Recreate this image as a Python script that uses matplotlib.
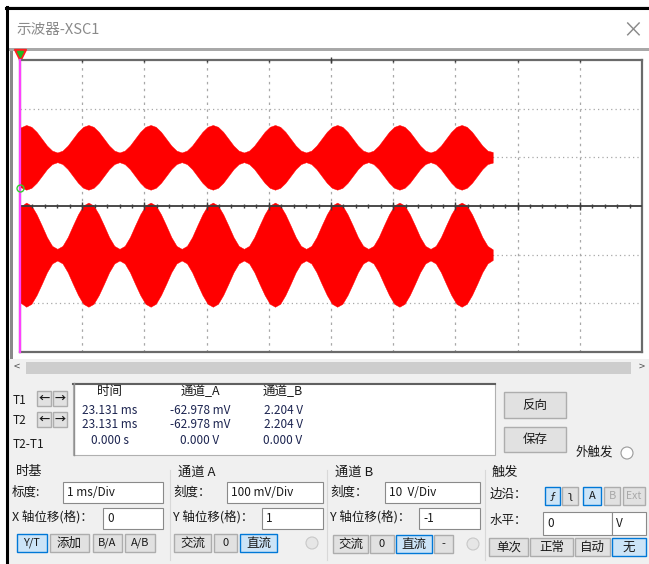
import numpy as np
import matplotlib.pyplot as plt
from matplotlib.patches import Rectangle, Circle

plt.rcParams['font.family'] = ['Noto Sans CJK SC', 'DejaVu Sans']

# envelope readings of the two traces, sampled every 1/12 ms from 0.1 ms
t_ms = np.concatenate([[0.0], np.arange(0.1, 7.6001, 1 / 12)])

# channel A envelope amplitude (mV), 100 mV/Div, offset +1 div
env_a_mv = [61.0,
            66.5, 62.7, 52.4, 38.3, 24.1, 13.8, 10.0, 13.8, 24.1, 38.3, 52.4, 62.7,
            66.5, 62.7, 52.4, 38.3, 24.1, 13.8, 10.0, 13.8, 24.1, 38.3, 52.4, 62.7,
            66.5, 62.7, 52.4, 38.3, 24.1, 13.8, 10.0, 13.8, 24.1, 38.3, 52.4, 62.7,
            66.5, 62.7, 52.4, 38.3, 24.1, 13.8, 10.0, 13.8, 24.1, 38.3, 52.4, 62.7,
            66.5, 62.7, 52.4, 38.3, 24.1, 13.8, 10.0, 13.8, 24.1, 38.3, 52.4, 62.7,
            66.5, 62.7, 52.4, 38.3, 24.1, 13.8, 10.0, 13.8, 24.1, 38.3, 52.4, 62.7,
            66.5, 62.7, 52.4, 38.3, 24.1, 13.8, 10.0, 13.8, 24.1, 38.3, 52.4, 62.7,
            66.5, 62.7, 52.4, 38.3, 24.1, 13.8, 11.0]

# channel B envelope amplitude (V), 10 V/Div, offset -1 div
env_b_v = [9.8,
           10.7, 10.1, 8.3, 6.0, 3.6, 1.8, 1.2, 1.8, 3.6, 6.0, 8.3, 10.1,
           10.7, 10.1, 8.3, 6.0, 3.6, 1.8, 1.2, 1.8, 3.6, 6.0, 8.3, 10.1,
           10.7, 10.1, 8.3, 6.0, 3.6, 1.8, 1.2, 1.8, 3.6, 6.0, 8.3, 10.1,
           10.7, 10.1, 8.3, 6.0, 3.6, 1.8, 1.2, 1.8, 3.6, 6.0, 8.3, 10.1,
           10.7, 10.1, 8.3, 6.0, 3.6, 1.8, 1.2, 1.8, 3.6, 6.0, 8.3, 10.1,
           10.7, 10.1, 8.3, 6.0, 3.6, 1.8, 1.2, 1.8, 3.6, 6.0, 8.3, 10.1,
           10.7, 10.1, 8.3, 6.0, 3.6, 1.8, 1.2, 1.8, 3.6, 6.0, 8.3, 10.1,
           10.7, 10.1, 8.3, 6.0, 3.6, 1.8, 1.1]

# cursor readout
col_heads = ['时间', '通道_A', '通道_B']
row_t1 = ['23.131 ms', '-62.978 mV', '2.204 V']
row_t2 = ['23.131 ms', '-62.978 mV', '2.204 V']
row_dt = ['0.000 s', '0.000 V', '0.000 V']

fig = plt.figure(figsize=(6.49, 5.64), dpi=100, facecolor='#f0f0f0')
ui = fig.add_axes([0, 0, 1, 1])
ui.set_xlim(0, 649)
ui.set_ylim(564, 0)
ui.axis('off')


def txt(x, y, s, size=9, ha='left', color='#1a1a1a', **kw):
    ui.text(x, y, s, fontsize=size, ha=ha, va='center', color=color, **kw)


def button(x0, x1, y0, y1, s, active=False, dim=False, size=9, **kw):
    fc = '#cce4f7' if active else '#e1e1e1'
    ec = '#0078d7' if active else '#adadad'
    ui.add_patch(Rectangle((x0, y0), x1 - x0, y1 - y0, fc=fc, ec=ec, lw=1))
    txt((x0 + x1) / 2, (y0 + y1) / 2, s, size, ha='center',
        color='#a8a8a8' if dim else '#1a1a1a', **kw)


def textbox(x0, x1, y0, y1, s):
    ui.add_patch(Rectangle((x0, y0), x1 - x0, y1 - y0, fc='white', ec='#8a8a8a', lw=0.8))
    txt(x0 + 4, (y0 + y1) / 2, s, 8.5)


# window frame, title bar and screen area
ui.add_patch(Rectangle((0, 0), 6, 564, fc='white', lw=0))
ui.add_patch(Rectangle((0, 0), 649, 6, fc='white', lw=0))
ui.add_patch(Rectangle((8, 9), 641, 39, fc='white', lw=0))
ui.add_patch(Rectangle((8, 48), 641, 3, fc='#a8a8a8', lw=0))
ui.add_patch(Rectangle((8, 51), 641, 308, fc='white', lw=0))
ui.add_patch(Rectangle((10, 51), 3, 308, fc='#8a8a8a', lw=0))
ui.plot([6, 649], [7.5, 7.5], color='black', lw=2.2)
ui.plot([7, 7], [7, 564], color='black', lw=2.2)
txt(16, 30, '示波器-XSC1', 10.5, color='#8a8a8a')
txt(633, 30, '×', 15, ha='center', color='#8a8a8a')

# scroll bar
ui.add_patch(Rectangle((26, 362), 605, 12, fc='#cdcdcd', lw=0))
txt(17, 367, '<', 8, ha='center', color='#505050')
txt(642, 367, '>', 8, ha='center', color='#505050')

# cursor readout box
ui.add_patch(Rectangle((73, 383), 422, 72, fc='white', ec='#b0b0b0', lw=0.8))
ui.plot([73, 495], [383.5, 383.5], color='#606060', lw=1.5)
ui.plot([73.5, 73.5], [383, 455], color='#909090', lw=1)
for x, s in zip([110, 200, 283], col_heads):
    txt(x, 392, s, 9, ha='center')
for y, row in zip([410, 425, 441], [row_t1, row_t2, row_dt]):
    for x, s in zip([110, 200, 283], row):
        txt(x, y, s, 8.5, ha='center', color='#1c2450')
txt(13, 401, 'T1', 8.5)
txt(13, 421, 'T2', 8.5)
txt(13, 444, 'T2-T1', 8.5)
for y in (391, 412):
    button(37, 51, y, y + 15, '←', size=8, fontweight='bold')
    button(53, 67, y, y + 15, '→', size=8, fontweight='bold')
button(504, 566, 392, 418, '反向')
button(504, 566, 427, 452, '保存')
txt(576, 452, '外触发', 9)
ui.add_patch(Circle((627, 453), 6, fc='white', ec='#9a9a9a', lw=0.8))

# lower control groups
for x in (170, 327, 485):
    ui.plot([x, x], [470, 560], color='#d8d8d8', lw=0.8)
txt(16, 472, '时基', 9.5)
txt(178, 472, '通道 A', 9.5)
txt(335, 472, '通道 B', 9.5)
txt(492, 472, '触发', 9.5)

txt(12, 492, '标度:', 9)
textbox(63, 163, 482, 503, '1 ms/Div')
txt(12, 517, 'X 轴位移(格)：', 9)
textbox(103, 163, 508, 529, '0')
button(17, 47, 534, 552, 'Y/T', active=True, size=8)
button(50, 89, 534, 552, '添加')
button(93, 122, 534, 552, 'B/A', size=8)
button(125, 155, 534, 552, 'A/B', size=8)

txt(173, 492, '刻度：', 9)
textbox(227, 323, 482, 503, '100 mV/Div')
txt(173, 517, 'Y 轴位移(格)：', 9)
textbox(262, 323, 508, 529, '1')
button(174, 211, 534, 552, '交流')
button(214, 237, 534, 552, '0', size=8)
button(240, 277, 534, 552, '直流', active=True)
ui.add_patch(Circle((312, 543), 6, fc='#e6e6e6', ec='#c8c8c8', lw=0.8))

txt(330, 492, '刻度：', 9)
textbox(385, 480, 482, 503, '10  V/Div')
txt(330, 517, 'Y 轴位移(格)：', 9)
textbox(419, 480, 508, 529, '-1')
button(333, 368, 535, 553, '交流')
button(370, 394, 535, 553, '0', size=8)
button(396, 432, 535, 553, '直流', active=True)
button(434, 453, 535, 553, '-', size=8)
ui.add_patch(Circle((473, 544), 6, fc='#e6e6e6', ec='#c8c8c8', lw=0.8))

txt(490, 494, '边沿：', 9)
button(545, 560, 487, 505, 'ƒ', active=True, size=8)
button(562, 578, 487, 505, 'ʅ', size=8)
button(583, 601, 487, 505, 'A', active=True, size=8)
button(604, 620, 487, 505, 'B', dim=True, size=8)
button(623, 645, 487, 505, 'Ext', dim=True, size=7.5)
txt(490, 520, '水平：', 9)
textbox(543, 612, 512, 535, '0')
textbox(612, 646, 512, 535, 'V')
button(489, 528, 538, 556, '单次')
button(530, 573, 538, 556, '正常')
button(575, 610, 538, 556, '自动')
button(612, 646, 538, 556, '无', active=True)

# trigger marker on top of the screen
ui.plot(20, 54.5, marker='v', color='#ff2020', ms=9, zorder=6)
ui.plot(20, 54, marker='v', color='#22bb22', ms=5, zorder=7)

# oscilloscope screen: 10 x 6 divisions
ax = fig.add_axes([20 / 649, 1 - 352 / 564, 622 / 649, 292 / 564])
ax.set_xlim(0, 10)
ax.set_ylim(-3, 3)
ax.set_xticks([])
ax.set_yticks([])
for s in ax.spines.values():
    s.set_color('#6a6a6a')
    s.set_linewidth(1.6)

for x in range(1, 10):
    ax.axvline(x, color='#a8a8a8', lw=0.9, ls=(0, (2, 3.5)), zorder=1)
for y in (-2, -1, 1, 2):
    ax.axhline(y, color='#a8a8a8', lw=0.9, ls=(0, (1, 2.5)), zorder=1)

env_a = np.array(env_a_mv) / 100
env_b = np.array(env_b_v) / 10
ax.fill_between(t_ms, 1 - env_a, 1 + env_a, color='#ff0000', lw=0.3, zorder=2)
ax.fill_between(t_ms, -1 - env_b, -1 + env_b, color='#ff0000', lw=0.3, zorder=2)

# centre axis with ticks
ax.axhline(0, color='#3c3c3c', lw=1.3, zorder=3)
minor = np.arange(0.2, 10, 0.2)
ax.vlines(minor, -0.045, 0.045, color='#3c3c3c', lw=1, zorder=3)
ax.vlines(np.arange(1, 10), -0.08, 0.08, color='#3c3c3c', lw=1, zorder=3)
ax.vlines(np.arange(1, 10), 2.95, 3, color='#3c3c3c', lw=1, zorder=3)
ax.vlines([5], 2.93, 3.07, color='#3c3c3c', lw=1, zorder=3, clip_on=False)

# cursor line and channel marker
ax.axvline(0, color='#ff40ff', lw=1.6, zorder=5, clip_on=False)
ax.plot(0, 0.37, marker='o', mfc='none', mec='#33cc33', ms=5, zorder=6, clip_on=False)

fig.savefig('out.png', dpi=100, facecolor=fig.get_facecolor())
